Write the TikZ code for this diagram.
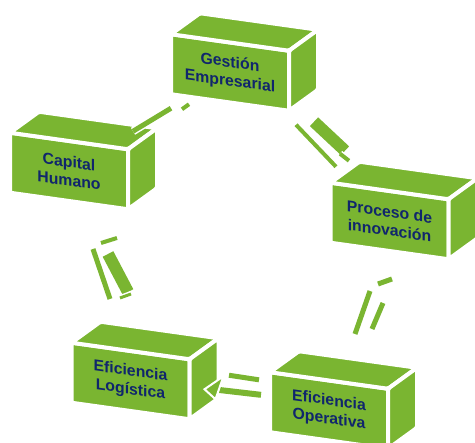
\documentclass[tikz,border=0pt]{standalone}
\usepackage{fontspec}
\setmainfont{Liberation Sans}
\usetikzlibrary{calc}
\definecolor{boxgreen}{RGB}{122,181,49}
\definecolor{labelblue}{RGB}{16,38,108}
\tikzset{
  face/.style={fill=boxgreen, draw=white, line width=4pt, rounded corners=1.5pt},
  front/.style={face, minimum width=118pt, minimum height=60pt, inner sep=0pt, outer sep=0pt,
    yslant=-0.14, align=center, text=labelblue, font=\fontsize{15.8}{18.5}\selectfont\bfseries},
  linkbar/.style={draw=boxgreen, line width=#1, preaction={draw=white, line width=#1+3pt}},
}
% top and right side of a box
\newcommand{\boxsides}[1]{%
  \draw[face] (#1.north west) -- ++(29,21) -- ($(#1.north east)+(29,21)$) -- (#1.north east) -- cycle;
  \draw[face] (#1.north east) -- ++(29,21) -- ($(#1.south east)+(29,21)$) -- (#1.south east) -- cycle;
}
\begin{document}
\begin{tikzpicture}[x=1pt, y=1pt]
  \useasboundingbox (0,0) rectangle (475,443);
  % boxes
  \node[front] (ges) at (230,370.5) {Gestión\\Empresarial};
  \node[front] (cap) at (69,272) {Capital\\Humano};
  \node[front] (pro) at (389.5,222) {Proceso de\\innovación};
  \node[front] (log) at (130.5,62) {Eficiencia\\Logística};
  \node[front] (ope) at (329,32.5) {Eficiencia\\Operativa};
  \foreach \b in {ges,cap,pro,log,ope} {\boxsides{\b}}
  % links
  \draw[linkbar=5pt] ([shift={(5,18)}]cap.north east) -- ([shift={(0,-14)}]ges.south west);
  \draw[linkbar=4pt] ([shift={(11,-15)}]ges.south west) -- ([shift={(18,-10)}]ges.south west);
  \draw[linkbar=4pt] ([shift={(7,-14)}]ges.south east) -- ([shift={(5.5,16)}]pro.north west);
  \draw[linkbar=12pt] ([shift={(25,-11)}]ges.south east) -- ([shift={(14.5,32)}]pro.north west);
  \draw[linkbar=4pt] ([shift={(9.5,29)}]pro.north west) -- ([shift={(18.5,22)}]pro.north west);
  \draw[linkbar=5pt] ([shift={(-19.5,-40)}]pro.south) -- ([shift={(26,46.5)}]ope.north);
  \draw[linkbar=5pt] ([shift={(-6.5,-52)}]pro.south) -- ([shift={(43,51.5)}]ope.north);
  \draw[linkbar=5pt] ([shift={(-11.5,-33)}]pro.south) -- ([shift={(2.5,-28)}]pro.south);
  \draw[linkbar=5pt] ([shift={(24,-48)}]cap.south) -- ([shift={(-20.5,52)}]log.north);
  \draw[linkbar=12pt] ([shift={(39,-53)}]cap.south) -- ([shift={(-2.5,59)}]log.north);
  \draw[linkbar=4pt] ([shift={(32,-42)}]cap.south) -- ([shift={(48,-37)}]cap.south);
  \draw[linkbar=3pt] ([shift={(-10.5,53)}]log.north) -- ([shift={(0.5,57)}]log.north);
  \draw[linkbar=5pt] ([shift={(39.5,14)}]log.east) -- ([shift={(-11,22.4)}]ope.west);
  \draw[linkbar=6pt] ([shift={(23.5,0)}]log.east) -- ([shift={(-9,7.4)}]ope.west);
  \draw[face, line width=2pt, rounded corners=0pt] ([shift={(15,0)}]log.east)
    -- ([shift={(34,13)}]log.east) -- ([shift={(26,-10)}]log.east) -- cycle;
\end{tikzpicture}
\end{document}
